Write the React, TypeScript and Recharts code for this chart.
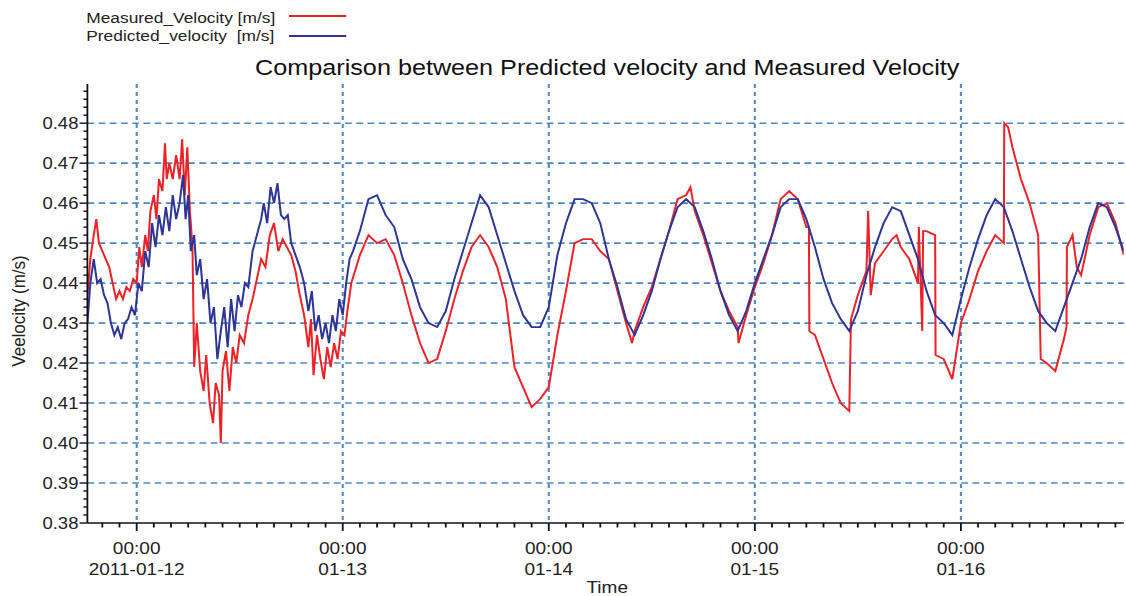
import React from 'react';
import { LineChart, Line, XAxis, YAxis, CartesianGrid } from 'recharts';

// hours since 2011-01-12 00:00, velocity in m/s
const measured: [number, number][] = [
  [-5.74, 0.437], [-5.4, 0.446], [-5.0, 0.452], [-4.7, 0.456], [-4.4, 0.45], [-4.0, 0.448],
  [-3.6, 0.446], [-3.2, 0.444], [-2.8, 0.44], [-2.4, 0.436], [-2.0, 0.438], [-1.6, 0.436],
  [-1.2, 0.439], [-0.8, 0.438], [-0.4, 0.441], [0, 0.44], [0.3, 0.449], [0.6, 0.444],
  [1.0, 0.452], [1.3, 0.448], [1.6, 0.458], [2.0, 0.462], [2.3, 0.456], [2.6, 0.466],
  [3.0, 0.463], [3.3, 0.475], [3.5, 0.466], [3.8, 0.47], [4.2, 0.466], [4.6, 0.472],
  [5.0, 0.466], [5.3, 0.476], [5.6, 0.462], [5.9, 0.474], [6.2, 0.458], [6.5, 0.449],
  [6.7, 0.419], [7.0, 0.43], [7.4, 0.418], [7.8, 0.413], [8.1, 0.422], [8.5, 0.41],
  [8.9, 0.405], [9.2, 0.415], [9.6, 0.412], [9.8, 0.4], [10.0, 0.418], [10.4, 0.423],
  [10.8, 0.413], [11.2, 0.424], [11.6, 0.42], [12.0, 0.427], [12.5, 0.425], [13.0, 0.432],
  [13.5, 0.436], [14.0, 0.441], [14.5, 0.446], [15.0, 0.444], [15.5, 0.452], [16.0, 0.455],
  [16.5, 0.448], [17.0, 0.451], [17.5, 0.449], [18.0, 0.447], [18.5, 0.443], [19.0, 0.437],
  [19.5, 0.432], [20.0, 0.424], [20.3, 0.431], [20.6, 0.417], [21.0, 0.427], [21.4, 0.421],
  [21.8, 0.416], [22.2, 0.424], [22.6, 0.419], [23.0, 0.425], [23.4, 0.421], [23.8, 0.428],
  [24.2, 0.427], [24.6, 0.434], [25, 0.44], [26, 0.447], [27, 0.452], [28, 0.45],
  [29, 0.451], [30, 0.447], [31, 0.44], [32, 0.432], [33, 0.425], [34, 0.42],
  [35, 0.421], [36, 0.428], [37, 0.436], [38, 0.443], [39, 0.449], [40, 0.452],
  [41, 0.449], [42, 0.444], [43, 0.436], [44, 0.419], [45, 0.414], [46, 0.409],
  [47, 0.411], [48, 0.414], [49, 0.427], [50, 0.438], [51, 0.45], [52, 0.451],
  [53, 0.451], [54, 0.448], [55, 0.446], [56, 0.438], [57, 0.43], [57.7, 0.425],
  [58, 0.428], [59, 0.434], [60, 0.439], [61, 0.446], [62, 0.453], [63, 0.461],
  [64, 0.462], [64.5, 0.464], [65, 0.458], [66, 0.452], [67, 0.445], [68, 0.438],
  [69, 0.433], [70, 0.429], [70.1, 0.425], [71, 0.432], [72, 0.439], [73, 0.445],
  [74, 0.452], [75, 0.461], [76, 0.463], [77, 0.461], [78, 0.454], [78.3, 0.454],
  [78.35, 0.428], [79, 0.427], [80, 0.421], [81, 0.415], [82, 0.41], [83, 0.408],
  [83.2, 0.431], [84, 0.437], [85, 0.443], [85.2, 0.458], [85.5, 0.437], [86, 0.445],
  [87, 0.448], [88, 0.451], [88.5, 0.452], [89, 0.449], [90, 0.446], [91, 0.44],
  [91.1, 0.454], [91.5, 0.428], [91.6, 0.453], [92, 0.453], [93, 0.452], [93.05, 0.422],
  [94, 0.421], [95, 0.416], [96, 0.43], [97, 0.436], [98, 0.443], [99, 0.448],
  [100, 0.452], [101, 0.45], [101.05, 0.48], [101.5, 0.479], [102, 0.474], [103, 0.466],
  [104, 0.46], [105, 0.452], [105.3, 0.421], [106, 0.42], [107, 0.418], [108, 0.426],
  [108.3, 0.429], [108.35, 0.449], [109, 0.452], [109.5, 0.444], [110, 0.442], [111, 0.452],
  [112, 0.459], [113, 0.46], [114, 0.455], [114.97, 0.447],
];

const predicted: [number, number][] = [
  [-5.74, 0.43], [-5.4, 0.44], [-5.0, 0.446], [-4.6, 0.44], [-4.2, 0.441], [-3.8, 0.437],
  [-3.4, 0.435], [-3.0, 0.43], [-2.6, 0.427], [-2.2, 0.429], [-1.8, 0.426], [-1.4, 0.43],
  [-1.0, 0.431], [-0.6, 0.434], [-0.2, 0.432], [0.2, 0.44], [0.6, 0.438], [1.0, 0.448],
  [1.4, 0.444], [1.8, 0.455], [2.2, 0.449], [2.6, 0.457], [3.0, 0.452], [3.4, 0.459],
  [3.8, 0.453], [4.2, 0.462], [4.6, 0.456], [5.0, 0.46], [5.4, 0.467], [5.7, 0.456],
  [6.0, 0.462], [6.3, 0.448], [6.7, 0.452], [7.0, 0.442], [7.4, 0.446], [7.8, 0.436],
  [8.2, 0.441], [8.6, 0.43], [9.0, 0.434], [9.4, 0.421], [9.8, 0.428], [10.2, 0.434],
  [10.6, 0.424], [11.0, 0.436], [11.4, 0.428], [11.8, 0.437], [12.2, 0.434], [12.6, 0.44],
  [13.0, 0.439], [13.5, 0.448], [14.0, 0.452], [14.5, 0.456], [14.8, 0.46], [15.2, 0.455],
  [15.6, 0.464], [16.0, 0.46], [16.4, 0.465], [16.8, 0.457], [17.2, 0.456], [17.6, 0.457],
  [18.0, 0.45], [18.5, 0.447], [19.0, 0.444], [19.5, 0.44], [20.0, 0.433], [20.4, 0.438],
  [20.8, 0.428], [21.2, 0.432], [21.6, 0.426], [22.0, 0.43], [22.4, 0.425], [22.8, 0.432],
  [23.2, 0.428], [23.6, 0.436], [24.0, 0.432], [24.4, 0.44], [24.8, 0.446], [25.2, 0.448],
  [26, 0.453], [27, 0.461], [28, 0.462], [29, 0.457], [30, 0.454], [31, 0.446],
  [32, 0.441], [33, 0.434], [34, 0.43], [35, 0.429], [36, 0.433], [37, 0.441],
  [38, 0.448], [39, 0.455], [40, 0.462], [41, 0.459], [42, 0.452], [43, 0.445],
  [44, 0.438], [45, 0.432], [46, 0.429], [47, 0.429], [48, 0.434], [49, 0.447],
  [50, 0.455], [51, 0.461], [52, 0.461], [53, 0.46], [54, 0.455], [55, 0.446],
  [56, 0.439], [57, 0.431], [58, 0.427], [59, 0.432], [60, 0.438], [61, 0.446],
  [62, 0.453], [63, 0.459], [64, 0.461], [65, 0.459], [66, 0.453], [67, 0.446],
  [68, 0.438], [69, 0.432], [70, 0.428], [71, 0.433], [72, 0.44], [73, 0.446],
  [74, 0.452], [75, 0.459], [76, 0.461], [77, 0.461], [78, 0.456], [79, 0.449],
  [80, 0.441], [81, 0.435], [82, 0.431], [83, 0.428], [84, 0.433], [85, 0.442],
  [86, 0.449], [87, 0.455], [88, 0.459], [89, 0.458], [90, 0.452], [91, 0.446],
  [92, 0.438], [93, 0.432], [94, 0.43], [95, 0.427], [96, 0.436], [97, 0.444],
  [98, 0.451], [99, 0.457], [100, 0.461], [101, 0.459], [102, 0.453], [103, 0.446],
  [104, 0.439], [105, 0.433], [106, 0.43], [107, 0.428], [108, 0.434], [109, 0.44],
  [110, 0.446], [111, 0.454], [112, 0.46], [113, 0.459], [114, 0.454], [114.97, 0.448],
];

const dayTicks = [0, 24, 48, 72, 96];
const dayLabels = ['2011-01-12', '01-13', '01-14', '01-15', '01-16'];
const velocityGrid = [0.39, 0.4, 0.41, 0.42, 0.43, 0.44, 0.45, 0.46, 0.47, 0.48];

const X_DOMAIN: [number, number] = [-5.74, 114.97];
const Y_DOMAIN: [number, number] = [0.38, 0.4898];

// minor ticks: every 2 hours, every 0.002 m/s
const hourTicks = Array.from({ length: 60 }, (_, i) => -4 + i * 2);
const velocityTicks = Array.from({ length: 55 }, (_, i) => +(0.38 + i * 0.002).toFixed(3));

const RED = '#ec2227';
const BLUE = '#2d3596';
const GRID = '#4a86c8';
const FONT = '"Liberation Sans", Arial, sans-serif';
const STRETCH = 1.1204; // the source picture is a bit wider than it is tall
const W = 1005;
const H = 596;

const TimeTick = (props: any) => {
  const { x, y, payload } = props;
  const idx = dayTicks.indexOf(payload.value);
  const major = idx >= 0;
  return (
    <g>
      <line x1={x} y1={y} x2={x} y2={y + (major ? 8 : 4.5)} stroke="#111" strokeWidth={1.6} />
      {major && (
        <text x={x} y={y + 31} textAnchor="middle" fontSize={17} fill="#222" fontFamily={FONT}>
          00:00
        </text>
      )}
      {major && (
        <text x={x} y={y + 52} textAnchor="middle" fontSize={17} fill="#222" fontFamily={FONT}>
          {dayLabels[idx]}
        </text>
      )}
    </g>
  );
};

const VelocityTick = (props: any) => {
  const { x, y, payload } = props;
  const v = payload.value;
  const major = Math.abs(v * 100 - Math.round(v * 100)) < 1e-6;
  return (
    <g>
      <line x1={x} y1={y} x2={x - (major ? 7 : 3.6)} y2={y} stroke="#111" strokeWidth={1.4} />
      {major && (
        <text x={x - 8} y={y + 6} textAnchor="end" fontSize={16.5} fill="#222" fontFamily={FONT}>
          {v.toFixed(2)}
        </text>
      )}
    </g>
  );
};

const toRows = (series: [number, number][]) => series.map(([t, v]) => ({ t, v }));

export default function App() {
  return (
    <div
      style={{
        position: 'absolute',
        left: 0,
        top: 0,
        width: W,
        height: H,
        transform: `scaleX(${STRETCH})`,
        transformOrigin: '0 0',
        background: '#fff',
      }}
    >
      <LineChart width={W} height={H} margin={{ top: 84, right: 2, bottom: 0, left: 0 }}>
        <CartesianGrid
          horizontal
          vertical={false}
          horizontalValues={velocityGrid}
          stroke={GRID}
          strokeWidth={1.6}
          strokeDasharray="6 4"
        />
        <CartesianGrid
          horizontal={false}
          vertical
          verticalValues={dayTicks}
          stroke={GRID}
          strokeWidth={1.8}
          strokeDasharray="4 4"
        />
        <XAxis
          dataKey="t"
          type="number"
          domain={X_DOMAIN}
          allowDataOverflow
          ticks={hourTicks}
          interval={0}
          height={73}
          tickSize={0}
          tickMargin={0}
          tickLine={false}
          tick={<TimeTick />}
          axisLine={{ stroke: '#111', strokeWidth: 1.6 }}
        />
        <XAxis
          xAxisId="top"
          orientation="top"
          dataKey="t"
          type="number"
          domain={X_DOMAIN}
          allowDataOverflow
          height={0}
          tick={false}
          tickLine={false}
          axisLine={{ stroke: '#333', strokeWidth: 2 }}
        />
        <YAxis
          type="number"
          domain={Y_DOMAIN}
          allowDataOverflow
          ticks={velocityTicks}
          interval={0}
          width={78}
          tickSize={0}
          tickMargin={0}
          tickLine={false}
          tick={<VelocityTick />}
          axisLine={{ stroke: '#111', strokeWidth: 1.6 }}
        />
        <Line
          data={toRows(measured)}
          dataKey="v"
          stroke={RED}
          strokeWidth={1.8}
          dot={false}
          isAnimationActive={false}
          name="Measured_Velocity [m/s]"
        />
        <Line
          data={toRows(predicted)}
          dataKey="v"
          stroke={BLUE}
          strokeWidth={1.8}
          dot={false}
          isAnimationActive={false}
          name="Predicted_velocity [m/s]"
        />
      </LineChart>
      <svg
        width={W}
        height={H}
        style={{ position: 'absolute', left: 0, top: 0, pointerEvents: 'none' }}
        fontFamily={FONT}
      >
        <text x={77} y={23.5} fontSize={15.5} fill="#222">Measured_Velocity [m/s]</text>
        <line x1={258} y1={16} x2={309} y2={16} stroke={RED} strokeWidth={2} />
        <text x={77} y={41.5} fontSize={15.5} fill="#222" style={{ whiteSpace: 'pre' }}>
          Predicted_velocity  [m/s]
        </text>
        <line x1={258} y1={36} x2={309} y2={36} stroke={BLUE} strokeWidth={2} />
        <text x={542} y={75} textAnchor="middle" fontSize={22.5} fill="#111">
          Comparison between Predicted velocity and Measured Velocity
        </text>
        <text
          x={0}
          y={0}
          transform="translate(22 311) rotate(-90)"
          textAnchor="middle"
          fontSize={17}
          fill="#222"
        >
          Veelocity (m/s)
        </text>
        <text x={542} y={593} textAnchor="middle" fontSize={17} fill="#222">Time</text>
      </svg>
    </div>
  );
}
